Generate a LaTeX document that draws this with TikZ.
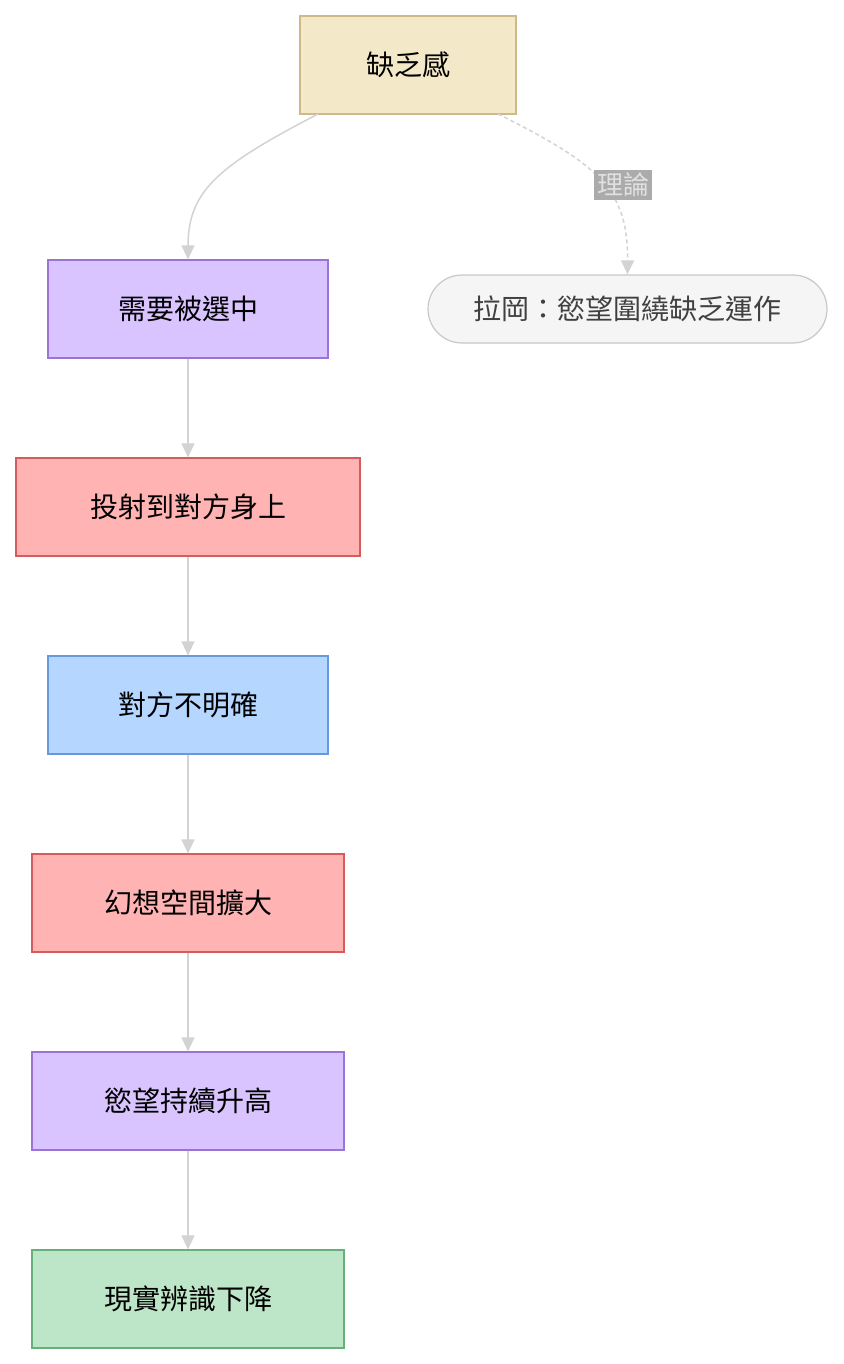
\documentclass[tikz,border=0pt]{standalone}
\usepackage{fontspec}
\setmainfont{Noto Sans CJK TC}
\usetikzlibrary{arrows.meta}
\definecolor{ybg}{HTML}{F3E9C9}\definecolor{ybd}{HTML}{CDB98A}
\definecolor{pbg}{HTML}{D9C4FF}\definecolor{pbd}{HTML}{9A73D6}
\definecolor{rbg}{HTML}{FFB3B3}\definecolor{rbd}{HTML}{D45C5C}
\definecolor{bbg}{HTML}{B5D6FF}\definecolor{bbd}{HTML}{6699DD}
\definecolor{gbg}{HTML}{BDE5C7}\definecolor{gbd}{HTML}{66B07A}
\definecolor{lbg}{HTML}{F5F5F5}\definecolor{lbd}{HTML}{C8C8C8}
\definecolor{edge}{HTML}{D3D3D3}
\begin{document}
\begin{tikzpicture}[x=1pt,y=-1pt,
  box/.style={draw,line width=1.2pt,minimum height=98pt,inner sep=0pt,font=\fontsize{28}{34}\selectfont},
  arr/.style={draw=edge,line width=1.5pt,-{Triangle[length=14pt,width=13pt]}}]
\useasboundingbox (0,0) rectangle (843,1364);
\node[box,fill=ybg,draw=ybd,minimum width=216pt] (a) at (408,65) {缺乏感};
\node[box,fill=pbg,draw=pbd,minimum width=280pt] (b) at (188,309) {需要被選中};
\node[box,fill=rbg,draw=rbd,minimum width=344pt] (c) at (188,507) {投射到對方身上};
\node[box,fill=bbg,draw=bbd,minimum width=280pt] (d) at (188,705) {對方不明確};
\node[box,fill=rbg,draw=rbd,minimum width=312pt] (e) at (188,903) {幻想空間擴大};
\node[box,fill=pbg,draw=pbd,minimum width=312pt] (f) at (188,1101) {慾望持續升高};
\node[box,fill=gbg,draw=gbd,minimum width=312pt] (g) at (188,1299) {現實辨識下降};
\node[box,fill=lbg,draw=lbd,text=black!75,minimum width=399pt,minimum height=68pt,rounded corners=34pt] (l) at (627.5,309) {拉岡：慾望圍繞缺乏運作};
\coordinate (a1) at (318,114);
\coordinate (a2) at (498,114);
\path[arr] (a1) .. controls (220,165) and (188,190) .. (b.north);
\path[arr,dashed,dash pattern=on 4pt off 3pt] (a2) .. controls (600,165) and (628,190) .. (l.north);
\node[fill=black!33,text=black!12,inner sep=3pt,font=\fontsize{26}{30}\selectfont] (t) at (623,185) {理論};
\foreach \u/\v in {b/c,c/d,d/e,e/f,f/g} \path[arr] (\u.south) -- (\v.north);
\end{tikzpicture}
\end{document}
